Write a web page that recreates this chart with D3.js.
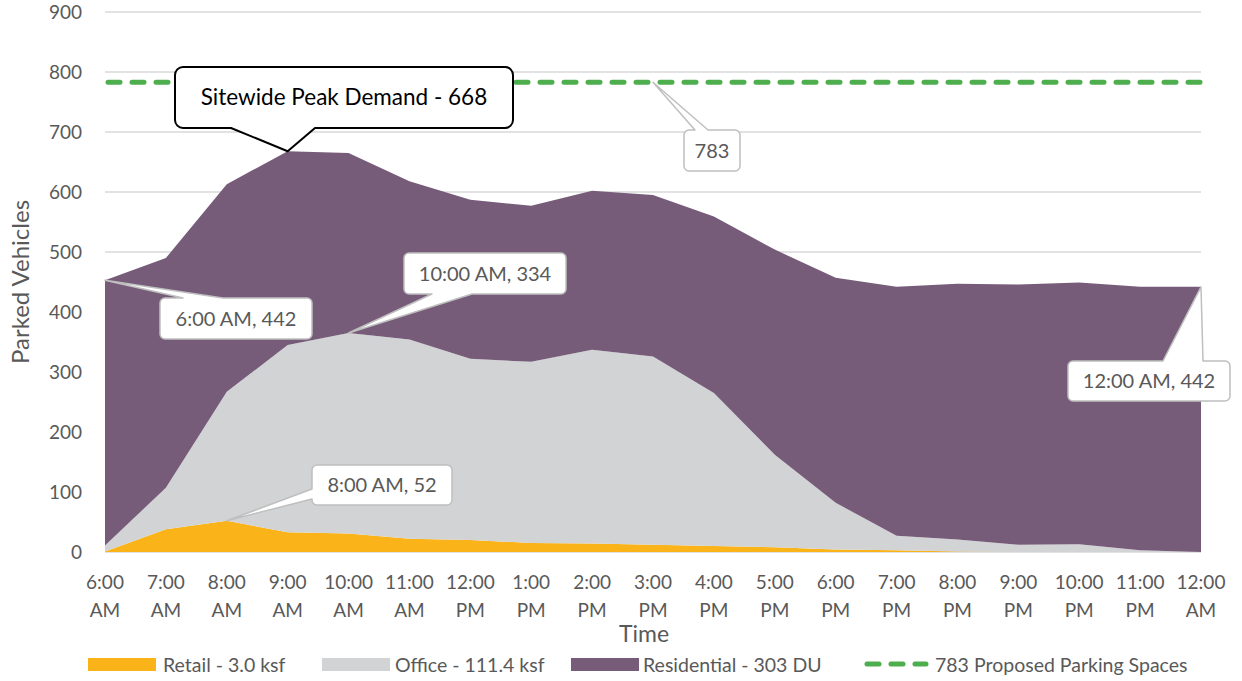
<!DOCTYPE html>
<html>
<head>
<meta charset="utf-8">
<script src="https://cdn.jsdelivr.net/npm/d3@7"></script>
<style>
  body { margin: 0; background: #fff; }
  svg text { font-family: Lato, "Open Sans", sans-serif; }
</style>
</head>
<body>
<div id="chart"></div>
<script>
const categories = ['6:00 AM', '7:00 AM', '8:00 AM', '9:00 AM', '10:00 AM', '11:00 AM',
  '12:00 PM', '1:00 PM', '2:00 PM', '3:00 PM', '4:00 PM', '5:00 PM', '6:00 PM',
  '7:00 PM', '8:00 PM', '9:00 PM', '10:00 PM', '11:00 PM', '12:00 AM']
const retail = [1, 38, 52, 33, 31, 22, 20, 15, 14, 12, 10, 8, 4, 3, 1, 0, 0, 0, 0]
const office = [10, 69, 215, 312, 334, 332, 302, 302, 323, 314, 255, 154, 78, 24, 20, 12, 13, 3, 0]
const residential = [442, 383, 346, 323, 300, 264, 265, 260, 265, 269, 294, 342, 375, 415, 426, 434, 436, 439, 442]
const parkingSupply = 783
const yTicks = [0, 100, 200, 300, 400, 500, 600, 700, 800, 900]
const seriesNames = ['Retail - 3.0 ksf', 'Office - 111.4 ksf', 'Residential - 303 DU']
const seriesColors = ['#FBB31A', '#D1D3D4', '#775C7A']
const lineName = '783 Proposed Parking Spaces'
const lineColor = '#4EAE4E'

const width = 1242
const height = 681
const textColor = '#595959'

const svg = d3.select('#chart')
  .append('svg')
  .attr('width', width)
  .attr('height', height)

const x = d3.scalePoint().domain(categories).range([105, 1201])
const y = d3.scaleLinear().domain([0, 900]).range([552, 12])

// gridlines
svg.append('g')
  .selectAll('line')
  .data(yTicks)
  .enter()
  .append('line')
  .attr('x1', 105)
  .attr('x2', 1201)
  .attr('y1', d => y(d))
  .attr('y2', d => y(d))
  .attr('stroke', '#D9D9D9')
  .attr('stroke-width', 1.3)

// y tick labels
svg.append('g')
  .selectAll('text')
  .data(yTicks)
  .enter()
  .append('text')
  .attr('x', 82)
  .attr('y', d => y(d))
  .attr('dy', '0.35em')
  .attr('text-anchor', 'end')
  .attr('font-size', 19)
  .attr('fill', textColor)
  .text(d => d)

// stacked areas
const rows = categories.map((c, i) => ({
  cat: c, retail: retail[i], office: office[i], residential: residential[i]
}))
const keys = ['retail', 'office', 'residential']
const stacked = d3.stack().keys(keys)(rows)
const area = d3.area()
  .x(d => x(d.data.cat))
  .y0(d => y(d[0]))
  .y1(d => y(d[1]))

svg.append('g')
  .selectAll('path')
  .data(stacked)
  .enter()
  .append('path')
  .attr('d', area)
  .attr('fill', (d, i) => seriesColors[i])

// proposed parking line
svg.append('line')
  .attr('x1', x(categories[0]) + 3)
  .attr('x2', x(categories[categories.length - 1]))
  .attr('y1', y(parkingSupply))
  .attr('y2', y(parkingSupply))
  .attr('stroke', lineColor)
  .attr('stroke-width', 5)
  .attr('stroke-linecap', 'round')
  .attr('stroke-dasharray', '12 12')

// x tick labels (two lines)
const xLabels = svg.append('g')
  .selectAll('text')
  .data(categories)
  .enter()
  .append('text')
  .attr('text-anchor', 'middle')
  .attr('font-size', 19)
  .attr('fill', textColor)
xLabels.append('tspan')
  .attr('x', d => x(d))
  .attr('y', 589)
  .text(d => d.split(' ')[0])
xLabels.append('tspan')
  .attr('x', d => x(d))
  .attr('y', 617)
  .text(d => d.split(' ')[1])

// axis titles
svg.append('text')
  .attr('transform', 'translate(29, 282) rotate(-90)')
  .attr('text-anchor', 'middle')
  .attr('font-size', 24)
  .attr('fill', textColor)
  .text('Parked Vehicles')
svg.append('text')
  .attr('x', 644)
  .attr('y', 642)
  .attr('text-anchor', 'middle')
  .attr('font-size', 23)
  .attr('fill', textColor)
  .text('Time')

// legend
const legend = svg.append('g')
const legendItems = [
  { name: seriesNames[0], color: seriesColors[0], sx: 88, tx: 163 },
  { name: seriesNames[1], color: seriesColors[1], sx: 322, tx: 395 },
  { name: seriesNames[2], color: seriesColors[2], sx: 571, tx: 643 }
]
legendItems.forEach(item => {
  legend.append('rect')
    .attr('x', item.sx)
    .attr('y', 658)
    .attr('width', 68)
    .attr('height', 13)
    .attr('fill', item.color)
  legend.append('text')
    .attr('x', item.tx)
    .attr('y', 665)
    .attr('dy', '0.35em')
    .attr('font-size', 19.5)
    .attr('fill', textColor)
    .text(item.name)
})
legend.append('line')
  .attr('x1', 867)
  .attr('x2', 926)
  .attr('y1', 664)
  .attr('y2', 664)
  .attr('stroke', lineColor)
  .attr('stroke-width', 5)
  .attr('stroke-linecap', 'round')
  .attr('stroke-dasharray', '12 12')
legend.append('text')
  .attr('x', 935)
  .attr('y', 665)
  .attr('dy', '0.35em')
  .attr('font-size', 19.5)
  .attr('fill', textColor)
  .text(lineName)

// callout: rounded box with a pointed tail on one side
function calloutPath (b, tail) {
  const r = b.r
  const x0 = b.x
  const y0 = b.y
  const x1 = b.x + b.w
  const y1 = b.y + b.h
  const p = d3.path()
  p.moveTo(x0 + r, y0)
  if (tail.side === 'top') {
    p.lineTo(tail.a, y0)
    p.lineTo(tail.tip[0], tail.tip[1])
    p.lineTo(tail.b, y0)
  }
  p.lineTo(x1 - r, y0)
  p.arcTo(x1, y0, x1, y0 + r, r)
  p.lineTo(x1, y1 - r)
  p.arcTo(x1, y1, x1 - r, y1, r)
  if (tail.side === 'bottom') {
    p.lineTo(tail.b, y1)
    p.lineTo(tail.tip[0], tail.tip[1])
    p.lineTo(tail.a, y1)
  }
  p.lineTo(x0 + r, y1)
  p.arcTo(x0, y1, x0, y1 - r, r)
  if (tail.side === 'left') {
    p.lineTo(x0, tail.b)
    p.lineTo(tail.tip[0], tail.tip[1])
    p.lineTo(x0, tail.a)
  }
  p.lineTo(x0, y0 + r)
  p.arcTo(x0, y0, x0 + r, y0, r)
  p.closePath()
  return p.toString()
}

function addCallout (opts) {
  const g = svg.append('g')
  g.append('path')
    .attr('d', calloutPath(opts.box, opts.tail))
    .attr('fill', '#fff')
    .attr('stroke', opts.stroke)
    .attr('stroke-width', opts.strokeWidth)
    .attr('stroke-linejoin', 'round')
  g.append('text')
    .attr('x', opts.box.x + opts.box.w / 2)
    .attr('y', opts.box.y + opts.box.h / 2)
    .attr('dy', '0.35em')
    .attr('text-anchor', 'middle')
    .attr('font-size', opts.fontSize)
    .attr('fill', opts.color)
    .text(opts.text)
}

const totals = categories.map((c, i) => retail[i] + office[i] + residential[i])
const peakIdx = totals.indexOf(d3.max(totals))
const officePeakIdx = office.indexOf(d3.max(office))
const retailPeakIdx = retail.indexOf(d3.max(retail))
const last = categories.length - 1

addCallout({
  box: { x: 175, y: 67, w: 338, h: 61, r: 8 },
  tail: { side: 'bottom', a: 231, b: 315, tip: [x(categories[peakIdx]), y(totals[peakIdx])] },
  stroke: '#000', strokeWidth: 2, color: '#000', fontSize: 22.5,
  text: 'Sitewide Peak Demand - ' + totals[peakIdx]
})
addCallout({
  box: { x: 684, y: 130, w: 56, h: 41, r: 5 },
  tail: { side: 'top', a: 695, b: 708, tip: [x('3:00 PM'), y(parkingSupply)] },
  stroke: '#BFBFBF', strokeWidth: 1.5, color: textColor, fontSize: 20,
  text: String(parkingSupply)
})
addCallout({
  box: { x: 404, y: 253, w: 162, h: 41, r: 5 },
  tail: { side: 'bottom', a: 432, b: 472, tip: [x(categories[officePeakIdx]), y(retail[officePeakIdx] + office[officePeakIdx])] },
  stroke: '#BFBFBF', strokeWidth: 1.5, color: textColor, fontSize: 20,
  text: categories[officePeakIdx] + ', ' + office[officePeakIdx]
})
addCallout({
  box: { x: 160, y: 298, w: 152, h: 41, r: 5 },
  tail: { side: 'top', a: 183, b: 223, tip: [x(categories[0]), y(totals[0])] },
  stroke: '#BFBFBF', strokeWidth: 1.5, color: textColor, fontSize: 20,
  text: categories[0] + ', ' + residential[0]
})
addCallout({
  box: { x: 312, y: 465, w: 140, h: 40, r: 5 },
  tail: { side: 'left', a: 489, b: 499, tip: [x(categories[retailPeakIdx]), y(retail[retailPeakIdx])] },
  stroke: '#BFBFBF', strokeWidth: 1.5, color: textColor, fontSize: 20,
  text: categories[retailPeakIdx] + ', ' + retail[retailPeakIdx]
})
addCallout({
  box: { x: 1068, y: 361, w: 162, h: 40, r: 5 },
  tail: { side: 'top', a: 1163, b: 1203, tip: [x(categories[last]), y(totals[last])] },
  stroke: '#BFBFBF', strokeWidth: 1.5, color: textColor, fontSize: 20,
  text: categories[last] + ', ' + residential[last]
})
</script>
</body>
</html>
